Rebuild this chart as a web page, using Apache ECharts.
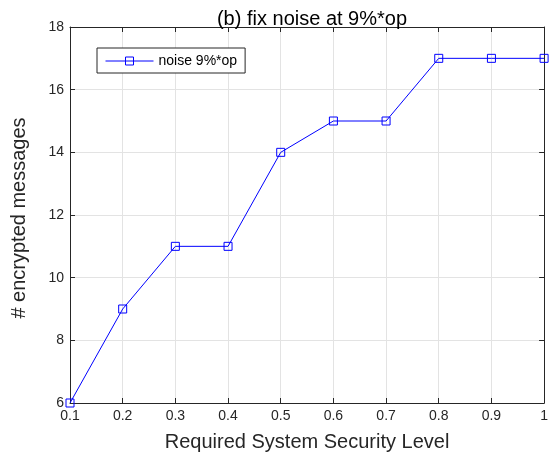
<!DOCTYPE html>
<html>
<head>
<meta charset="utf-8">
<script src="https://cdn.jsdelivr.net/npm/echarts@6/dist/echarts.min.js"></script>
<style>
  html, body { margin: 0; padding: 0; background: #fff; overflow: hidden; }
  #chart { width: 551px; height: 458px; }
</style>
</head>
<body>
<div id="chart"></div>
<script>
// Security level on the x axis, number of encrypted messages on the y axis
const securityLevels = ['0.1', '0.2', '0.3', '0.4', '0.5', '0.6', '0.7', '0.8', '0.9', '1'];
const encryptedMessages = [6, 9, 11, 11, 14, 15, 15, 17, 17, 17];
const seriesName = 'noise 9%*op';
const yMin = 6, yMax = 18, yStep = 2;

const ink = '#262626';
const gridColor = '#e3e3e3';
const blue = '#0000ff';
const font = 'Liberation Sans, Arial, Helvetica, sans-serif';

const chart = echarts.init(document.getElementById('chart'), null, { renderer: 'canvas' });

// Box outline on the top and right sides, ticks pointing inward
const frameAxis = {
  axisLine: { show: true, lineStyle: { color: ink, width: 1 } },
  axisTick: { show: true, inside: true, length: 5, lineStyle: { color: ink } },
  axisLabel: { show: false },
  splitLine: { show: false }
};

chart.setOption({
  backgroundColor: '#fff',
  animation: false,
  title: {
    text: '(b) fix noise at 9%*op',
    left: 307, top: 4, textAlign: 'center',
    textStyle: { fontFamily: font, fontSize: 20, fontWeight: 'normal', color: '#000' }
  },
  legend: {
    data: [seriesName],
    left: 97, top: 48,
    orient: 'vertical',
    itemWidth: 48, itemHeight: 10, itemGap: 6,
    padding: [6, 8, 5, 8],
    borderColor: ink, borderWidth: 1,
    backgroundColor: '#fff',
    lineStyle: { width: 1 },
    itemStyle: { borderWidth: 1 },
    textStyle: { fontFamily: font, fontSize: 14, color: '#000' }
  },
  grid: { left: 70, width: 479, top: 27, height: 376, containLabel: false },
  xAxis: [
    {
      type: 'category', data: securityLevels, boundaryGap: false,
      name: 'Required System Security Level', nameLocation: 'middle', nameGap: 29,
      nameTextStyle: { fontFamily: font, fontSize: 20, color: ink },
      axisLine: { lineStyle: { color: ink, width: 1 } },
      axisTick: { inside: true, length: 5, alignWithLabel: true, lineStyle: { color: ink } },
      axisLabel: { fontFamily: font, fontSize: 14, color: ink, margin: 6 },
      splitLine: { show: true, lineStyle: { color: gridColor, width: 1 } }
    },
    Object.assign({ type: 'category', data: securityLevels, boundaryGap: false, position: 'top' }, frameAxis)
  ],
  yAxis: [
    {
      type: 'value', min: yMin, max: yMax, interval: yStep,
      name: '# encrypted messages', nameLocation: 'middle', nameGap: 41,
      nameTextStyle: { fontFamily: font, fontSize: 20, color: ink, padding: [0, 6, 0, 0] },
      axisLine: { show: true, lineStyle: { color: ink, width: 1 } },
      axisTick: { show: true, inside: true, length: 5, lineStyle: { color: ink } },
      axisLabel: { fontFamily: font, fontSize: 14, color: ink, margin: 6 },
      splitLine: { show: true, lineStyle: { color: gridColor, width: 1 } }
    },
    Object.assign({ type: 'value', min: yMin, max: yMax, interval: yStep, position: 'right' }, frameAxis)
  ],
  series: [
    {
      name: seriesName,
      type: 'line',
      data: encryptedMessages,
      color: blue,
      symbol: 'rect',
      symbolSize: 8,
      lineStyle: { color: blue, width: 1 },
      itemStyle: { color: 'rgba(0,0,0,0)', borderColor: blue, borderWidth: 1 },
      clip: false
    }
  ]
});
</script>
</body>
</html>
